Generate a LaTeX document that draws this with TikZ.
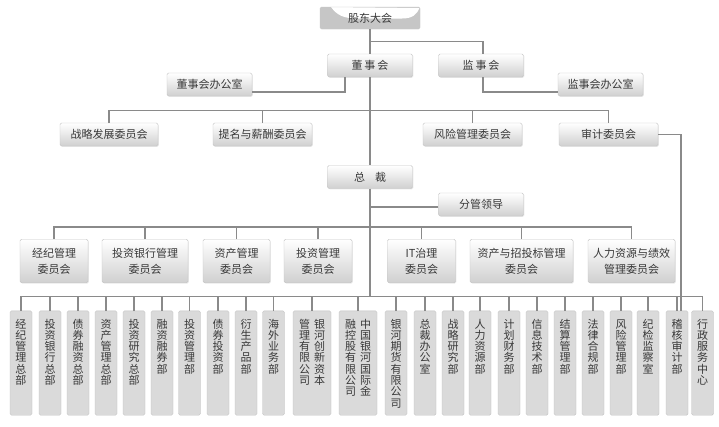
\documentclass[tikz,border=0pt]{standalone}
\usepackage{fontspec}
\setmainfont{Noto Sans CJK SC}
\usetikzlibrary{shadows}
\definecolor{linegray}{HTML}{8A8A8A}
\definecolor{boxline}{HTML}{C6C6C6}
\definecolor{boxbot}{HTML}{D0D0D0}
\definecolor{deptfill}{HTML}{DADADA}
\definecolor{deptline}{HTML}{C2C2C2}
\definecolor{txtgray}{HTML}{383838}
\makeatletter
\newcommand\vcol[1]{\vtop{\baselineskip=11.3pt\@tfor\colch:=#1\do{\hbox to 11pt{\hss\colch\hss}}}}
\makeatother
\begin{document}
\begin{tikzpicture}[x=1pt,y=-1pt,font=\fontsize{11}{16}\selectfont,text=txtgray,
  line/.style={draw=linegray,line width=1.3pt},
  box/.style={draw=boxline,rounded corners=1.5pt,top color=white,bottom color=boxbot,inner sep=0pt,
    minimum height=23pt,minimum width=85pt,align=center,
    drop shadow={opacity=0.18,shadow xshift=0.8pt,shadow yshift=-0.8pt}},
  cmt/.style={box,minimum height=43.5pt},
  dept/.style={draw=deptline,fill=deptfill,rounded corners=1.5pt,anchor=north,inner xsep=0pt,inner ysep=3pt,
    text height=14.1pt,text depth=84.2pt,font=\fontsize{11}{11.3}\selectfont}]
  \path[use as bounding box,fill=white] (0,0) rectangle (719,426);
  \fill[gray!45,rounded corners=1.5pt] (320,7) rectangle (420,29);
  \fill[white] (331,7) .. controls (337,15) and (343,18.5) .. (358,18.5) -- (402,18.5)
    .. controls (413,18.5) and (417,14) .. (419.5,8) -- cycle;
  \node[draw=boxline,rounded corners=1.5pt,minimum width=100pt,minimum height=22pt,inner sep=0pt] (gd) at (370,18) {股东大会};
  \node[box] (dsh) at (370,65.5) {董\,事\,会};
  \node[box] (jsh) at (481,65.5) {监\,事\,会};
  \node[box] (dban) at (209.5,84.5) {董事会办公室};
  \node[box] (jban) at (600.5,84.5) {监事会办公室};
  \node[box,minimum width=98pt] (zl) at (109,134.5) {战略发展委员会};
  \node[box,minimum width=99pt] (tm) at (262.5,134.5) {提名与薪酬委员会};
  \node[box,minimum width=99pt] (fx) at (472.5,134.5) {风险管理委员会};
  \node[box,minimum width=99pt] (sj) at (608.5,134.5) {审计委员会};
  \node[box] (zc) at (370,177) {总\hspace{10pt}裁};
  \node[box] (fg) at (481,204.5) {分管领导};
  \node[cmt,minimum width=68pt] (c1) at (54,261) {经纪管理\\委员会};
  \node[cmt,minimum width=86pt] (c2) at (145,261) {投资银行管理\\委员会};
  \node[cmt,minimum width=67pt] (c3) at (236.5,261) {资产管理\\委员会};
  \node[cmt,minimum width=68pt] (c4) at (318,261) {投资管理\\委员会};
  \node[cmt,minimum width=68pt] (c5) at (421.5,261) {IT治理\\委员会};
  \node[cmt,minimum width=103pt] (c6) at (521.5,261) {资产与招投标管理\\委员会};
  \node[cmt,minimum width=87pt] (c7) at (631.5,261) {人力资源与绩效\\管理委员会};
  \foreach \x/\w/\t [count=\i] in {21/22/{\vcol{经纪管理总部}},50/22/{\vcol{投资银行总部}},
      78/22/{\vcol{债券融资总部}},106/22/{\vcol{资产管理总部}},134/22/{\vcol{投资研究总部}},
      162/22/{\vcol{融资融券部}},189.5/22/{\vcol{投资管理部}},218/22/{\vcol{债券投资部}},
      246/22/{\vcol{衍生产品部}},273.5/22/{\vcol{海外业务部}},
      312/38/{\vcol{管理有限公司}\hspace{4pt}\vcol{银河创新资本}},
      358/38/{\vcol{融控股有限公司}\hspace{4pt}\vcol{中国银河国际金}},
      396/22/{\vcol{银河期货有限公司}},425/22/{\vcol{总裁办公室}},453/22/{\vcol{战略研究部}},
      480/22/{\vcol{人力资源部}},509/22/{\vcol{计划财务部}},537/22/{\vcol{信息技术部}},
      565/22/{\vcol{结算管理部}},593/22/{\vcol{法律合规部}},621/22/{\vcol{风险管理部}},
      648/22/{\vcol{纪检监察室}},677/22/{\vcol{稽核审计部}},702.5/22/{\vcol{行政服务中心}}}
    \node[dept,minimum width=\w pt] (b\i) at (\x,310.7) {\t};
  \coordinate (hub) at (370,297);
  \draw[line] (gd) -- (dsh);
  \draw[line] (gd.south) ++(0,12) -| ([xshift=2pt]jsh.north);
  \draw[line] ([xshift=-25pt]dsh.south) |- ([yshift=-7.5pt]dban.east);
  \draw[line] ([xshift=2pt]jsh.south) |- ([yshift=-7.5pt]jban.west);
  \draw[line] (dsh) -- (zc);
  \draw[line] (zl.north) -- ++(0,-12) -| (sj.north);
  \foreach \n in {tm,fx} \draw[line] (\n.north) -- ++(0,-12);
  \draw[line] (sj.east) -| ([xshift=4pt]b23.north);
  \draw[line] (zc) -- (hub);
  \draw[line] ([yshift=-2.5pt]fg.west) -- ([yshift=-2.5pt]fg.west -| zc);
  \draw[line] (c1.north) -- ++(0,-12) -| (c7.north);
  \foreach \n in {2,...,6} \draw[line] (c\n.north) -- ++(0,-12);
  \draw[line] (b1.north) -- ++(0,-14) -| (b24.north);
  \foreach \n in {2,...,23} \draw[line] (b\n.north) -- ++(0,-14);
\end{tikzpicture}
\end{document}
